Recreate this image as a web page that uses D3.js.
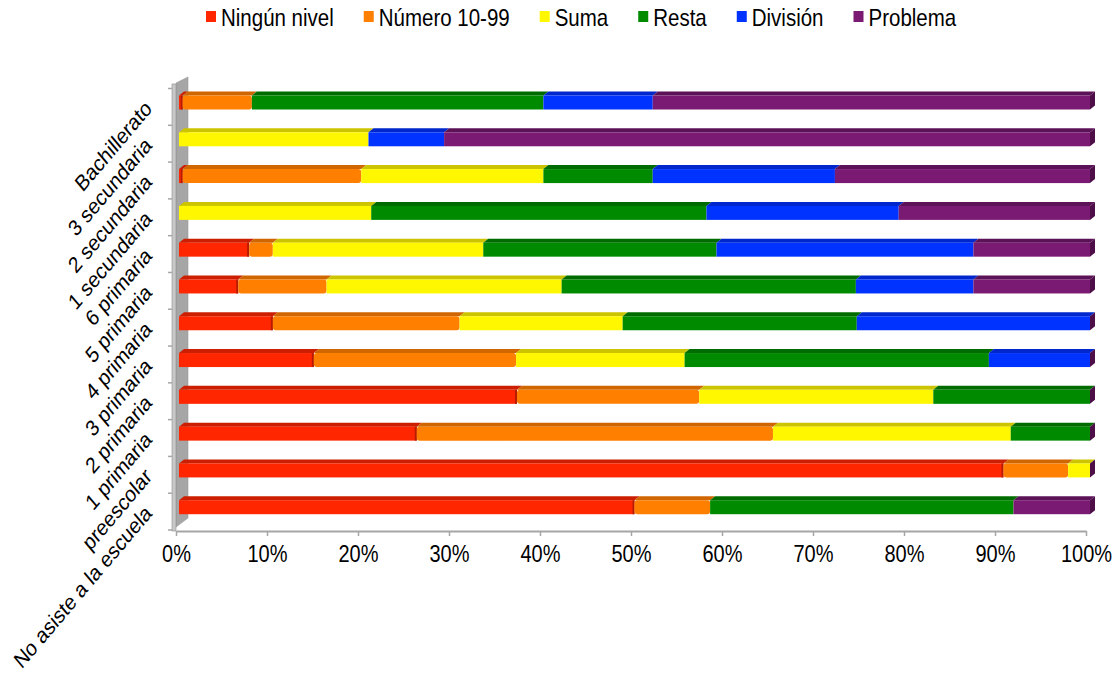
<!DOCTYPE html>
<html><head><meta charset="utf-8">
<script src="https://cdn.jsdelivr.net/npm/d3@7"></script>
<style>
body{margin:0;background:#fff;}
text{font-family:"Liberation Sans",Arial,sans-serif;fill:#000;}
</style></head>
<body><svg id="c" width="1117" height="677"></svg>
<script>
// Data (bottom to top)
const categories = ["No asiste a la escuela","preescolar","1 primaria","2 primaria","3 primaria","4 primaria","5 primaria","6 primaria","1 secundaria","2 secundaria","3 secundaria","Bachillerato"];
const seriesNames = ["Ningún nivel","Número 10-99","Suma","Resta","División","Problema"];
const ningun   = [50.0, 90.5, 26.1, 37.1, 14.8, 10.3,  6.5,  7.7,  0.0,  0.4,  0.0,  0.4];
const numero   = [ 8.3,  7.1, 39.1, 20.0, 22.2, 20.5,  9.7,  2.6,  0.0, 19.6,  0.0,  7.6];
const suma     = [ 0.0,  2.4, 26.1, 25.7, 18.5, 17.9, 25.8, 23.1, 21.1, 20.0, 20.8,  0.0];
const resta    = [33.3,  0.0,  8.7, 17.2, 33.4, 25.7, 32.3, 25.6, 36.8, 12.0,  0.0, 32.0];
const division = [ 0.0,  0.0,  0.0,  0.0, 11.1, 25.6, 12.9, 28.2, 21.1, 20.0,  8.3, 12.0];
const problema = [ 8.4,  0.0,  0.0,  0.0,  0.0,  0.0, 12.8, 12.8, 21.0, 28.0, 70.9, 48.0];
const xTicks = [0,0.1,0.2,0.3,0.4,0.5,0.6,0.7,0.8,0.9,1];

const front = ["#FF2600","#FF7F00","#FFF700","#008A00","#0033FF","#7A1A73"];
const topc  = ["#CC1E00","#D06600","#CCC400","#006C00","#0027CC","#5C1257"];

const table = categories.map((c,i)=>({cat:c,"Ningún nivel":ningun[i],"Número 10-99":numero[i],"Suma":suma[i],"Resta":resta[i],"División":division[i],"Problema":problema[i]}));
const stacked = d3.stack().keys(seriesNames).offset(d3.stackOffsetExpand)(table);

const svg = d3.select("#c");
const SY = 1.18; // vertical text stretch of the original

// scales
const y = d3.scaleBand().domain(categories.slice().reverse()).range([88.5,530]).paddingInner(0).paddingOuter(0);
const xFloor = d3.scaleLinear().domain([0,1]).range([176,1086]);
const xBar = d3.scaleLinear().domain([0,1]).range([179,1090]);
const dx = 5, dy = 4, bh = 14, off = 7;

// wall
const wall = svg.append("g");
wall.append("path").attr("d",`M176,83 L188,77 L188,518 L176,527 Z`).attr("fill","#A6A6A6").attr("stroke","#9a9a9a").attr("stroke-width",0.6);
wall.append("path").attr("d",`M172,85 L176,83 L188,77 L184,79 Z`).attr("fill","#D0D0D0");
wall.append("rect").attr("x",172).attr("y",84).attr("width",4).attr("height",447).attr("fill","#C8C8C8").attr("stroke","#8c8c8c").attr("stroke-width",0.6);

// floor axis
const xAxis = d3.axisBottom(xFloor).tickValues(xTicks).tickFormat(d3.format(".0%")).tickSize(5).tickSizeOuter(0);
const gx = svg.append("g").attr("transform","translate(0,531)").call(xAxis);
gx.select(".domain").attr("stroke","#A6A6A6").attr("stroke-width",2);
gx.selectAll(".tick line").attr("stroke","#A6A6A6").attr("stroke-width",1.5);
gx.selectAll(".tick text").attr("y",26.6).attr("dy",0).attr("transform",`scale(1,${SY})`).style("font-size","20px").style("font-family","Liberation Sans, Arial, sans-serif").attr("fill","#000");

// category axis (labels)
const yAxis = d3.axisLeft(y).tickSize(0);
const gy = svg.append("g").attr("transform","translate(172,0)").call(yAxis);
gy.select(".domain").remove();
gy.selectAll(".tick text").attr("x",0).attr("dy",0).attr("y",0)
  .attr("text-anchor","end")
  .attr("transform",`translate(-19,3) scale(1,${SY}) rotate(-45)`)
  .style("font-size","19px").style("font-family","Liberation Sans, Arial, sans-serif").attr("fill","#000");
// category tick marks at band boundaries
const bounds = categories.map(c=>y(c)).concat([y.range()[1]]);
svg.append("g").selectAll("line").data(bounds).join("line")
  .attr("x1",168).attr("x2",172).attr("y1",d=>d).attr("y2",d=>d)
  .attr("stroke","#A6A6A6").attr("stroke-width",1.5);

// bars
const bars = svg.append("g");
stacked.forEach((s,si)=>{
  s.forEach((d,i)=>{
    const w = xBar(d[1])-xBar(d[0]);
    if (w < 0.5) return;
    const cat = d.data.cat;
    const x0 = xBar(d[0]), x1 = xBar(d[1]);
    const fy = y(cat)+off;
    bars.append("path")
      .attr("d",`M${x0},${fy} L${x1},${fy} L${x1+dx},${fy-dy} L${x0+dx},${fy-dy} Z`)
      .attr("fill",topc[si]);
    bars.append("rect").attr("x",x0).attr("y",fy).attr("width",w).attr("height",bh)
      .attr("fill",front[si]).attr("rx",si===1?3:0);
    if (si===0) {
      bars.append("rect").attr("x",Math.max(x0,x1-2)).attr("y",fy).attr("width",Math.min(2,w)).attr("height",bh).attr("fill","#B81C00");
    }
  });
});
// end side faces
categories.forEach(c=>{
  const x1 = xBar(1), fy = y(c)+off;
  bars.append("path").attr("d",`M${x1},${fy} L${x1+dx},${fy-dy} L${x1+dx},${fy+bh-dy} L${x1},${fy+bh} Z`).attr("fill","#4E0F49");
});

// legend
const lg = svg.append("g");
let lx = 206;
seriesNames.forEach((n,i)=>{
  lg.append("rect").attr("x",lx).attr("y",11).attr("width",10).attr("height",11).attr("fill",front[i]);
  const t = lg.append("text").attr("x",0).attr("y",0)
    .attr("transform",`translate(${lx+15},26) scale(1,${SY})`)
    .style("font-size","20.5px").text(n);
  lx += 15 + t.node().getComputedTextLength() + 30;
});
</script></body></html>
